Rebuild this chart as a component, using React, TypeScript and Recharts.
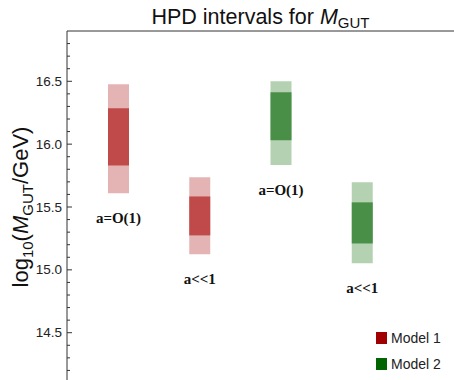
import React from 'react';
import { ComposedChart, Bar, XAxis, YAxis, Cell, LabelList } from 'recharts';

// Four HPD intervals: two models, two regimes of the parameter a
const categories = ['M1 a=O(1)', 'M1 a<<1', 'M2 a=O(1)', 'M2 a<<1'];
const caseLabels = ['a=O(1)', 'a<<1', 'a=O(1)', 'a<<1'];
const modelIndex = [0, 0, 1, 1];

// outer (wide) interval bounds
const outerLow = [15.61, 15.125, 15.834, 15.053];
const outerHigh = [16.476, 15.736, 16.5, 15.696];
// inner (narrow) interval bounds
const innerLow = [15.831, 15.274, 16.03, 15.21];
const innerHigh = [16.285, 15.584, 16.412, 15.537];

const modelNames = ['Model 1', 'Model 2'];
const modelColors = ['#a00000', '#006400'];
const outerColors = ['#e4b4b4', '#b4d2b2'];
const innerColors = ['#c04a4a', '#4a8f48'];

const yDomain: [number, number] = [14.1, 16.9];
const yTicks = [
  14.2, 14.3, 14.4, 14.5, 14.6, 14.7, 14.8, 14.9, 15.0, 15.1, 15.2, 15.3, 15.4,
  15.5, 15.6, 15.7, 15.8, 15.9, 16.0, 16.1, 16.2, 16.3, 16.4, 16.5, 16.6, 16.7, 16.8,
];
const majorTicks = [14.5, 15.0, 15.5, 16.0, 16.5];

const data = categories.map((cat, i) => ({
  cat,
  label: caseLabels[i],
  model: modelIndex[i],
  outer: [outerLow[i], outerHigh[i]],
  inner: [innerLow[i], innerHigh[i]],
}));

const SANS = '"Liberation Sans", Arial, Helvetica, sans-serif';
const SERIF = '"Liberation Serif", "Times New Roman", serif';

const YTick = (props: any) => {
  const { x, y, payload } = props;
  const v = payload.value as number;
  const isMajor = majorTicks.some((m) => Math.abs(m - v) < 1e-6);
  const axisX = x + 5;
  return (
    <g>
      <line x1={axisX} x2={axisX + (isMajor ? 5 : 3)} y1={y} y2={y} stroke="#333" strokeWidth={1} />
      {isMajor && (
        <text x={x} y={y} textAnchor="end" dominantBaseline="central" fontFamily={SANS} fontSize={13.5} fill="#222">
          {v.toFixed(1)}
        </text>
      )}
    </g>
  );
};

const YTitle = (props: any) => {
  const vb = props.viewBox || { y: 31, height: 352 };
  const cx = 28;
  const cy = vb.y + vb.height / 2;
  return (
    <text
      x={cx}
      y={cy}
      transform={`rotate(-90, ${cx}, ${cy})`}
      textAnchor="middle"
      fontFamily={SANS}
      fontSize={22}
      fill="#111"
    >
      <tspan>log</tspan>
      <tspan fontSize={15} dy={5}>10</tspan>
      <tspan dy={-5}>(</tspan>
      <tspan fontStyle="italic">M</tspan>
      <tspan fontSize={15} dy={5}>GUT</tspan>
      <tspan dy={-5}>/GeV)</tspan>
    </text>
  );
};

const CaseLabel = (props: any) => {
  const { x, y, width, height, value } = props;
  return (
    <text
      x={x + width / 2}
      y={y + height + 25}
      textAnchor="middle"
      dominantBaseline="central"
      fontFamily={SERIF}
      fontWeight="bold"
      fontSize={15}
      fill="#111"
    >
      {value}
    </text>
  );
};

export default function App() {
  return (
    <div style={{ position: 'absolute', left: 0, top: 0, width: 454, height: 380, overflow: 'hidden', background: '#fff' }}>
      <ComposedChart width={454} height={383} data={data} margin={{ top: 30, right: 0, bottom: 0, left: 0 }}>
        <XAxis
          xAxisId="outer"
          dataKey="cat"
          orientation="top"
          height={1}
          tick={false}
          tickLine={false}
          axisLine={{ stroke: '#333' }}
          padding={{ left: 11, right: 51 }}
        />
        <XAxis xAxisId="inner" dataKey="cat" hide padding={{ left: 11, right: 51 }} />
        <YAxis
          type="number"
          domain={yDomain}
          ticks={yTicks}
          interval={0}
          width={67}
          tickLine={false}
          tickSize={0}
          tickMargin={5}
          tick={<YTick />}
          axisLine={{ stroke: '#333' }}
          allowDataOverflow
          label={<YTitle />}
        />
        <Bar xAxisId="outer" dataKey="outer" barSize={21} isAnimationActive={false}>
          {data.map((d) => (
            <Cell key={d.cat} fill={outerColors[d.model]} />
          ))}
          <LabelList dataKey="label" content={<CaseLabel />} />
        </Bar>
        <Bar xAxisId="inner" dataKey="inner" barSize={21} isAnimationActive={false}>
          {data.map((d) => (
            <Cell key={d.cat} fill={innerColors[d.model]} />
          ))}
        </Bar>
      </ComposedChart>
      <div
        style={{
          position: 'absolute',
          left: 67,
          width: 387,
          top: 6,
          textAlign: 'center',
          fontFamily: SANS,
          fontSize: 21.5,
          lineHeight: '22px',
          color: '#111',
          whiteSpace: 'nowrap',
        }}
      >
        HPD intervals for <i>M</i>
        <span style={{ fontSize: 15, position: 'relative', top: 4 }}>GUT</span>
      </div>
      {modelNames.map((name, i) => (
        <div
          key={name}
          style={{
            position: 'absolute',
            left: 376,
            top: 331 + i * 26,
            height: 13,
            display: 'flex',
            alignItems: 'center',
            fontFamily: SANS,
            fontSize: 14,
            color: '#222',
          }}
        >
          <span style={{ display: 'inline-block', width: 11, height: 12, background: modelColors[i], marginRight: 4 }} />
          <span>{name}</span>
        </div>
      ))}
    </div>
  );
}
